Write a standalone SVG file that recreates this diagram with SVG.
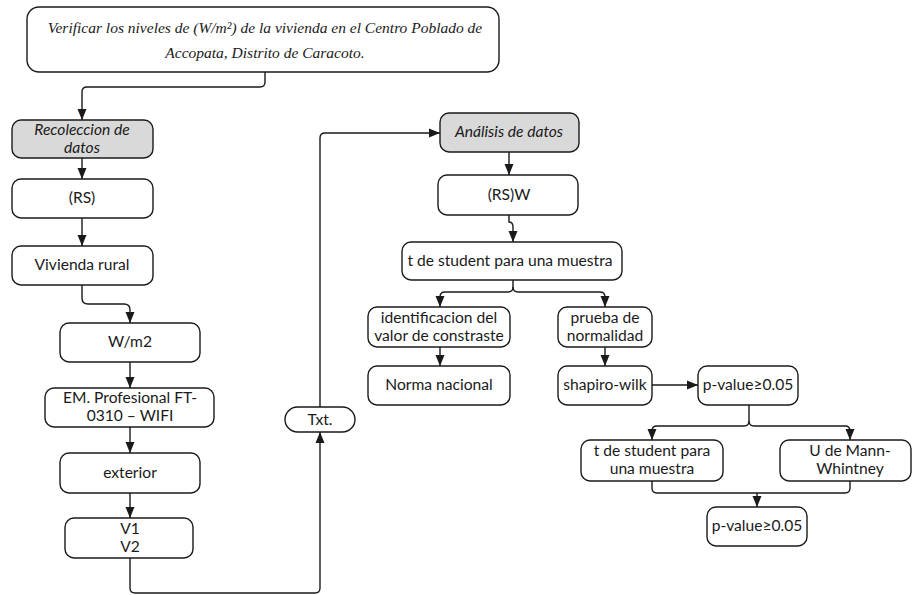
<svg xmlns="http://www.w3.org/2000/svg" width="912" height="595" viewBox="0 0 912 595">
  <style>
    .box { fill: #ffffff; stroke: #1a1a1a; stroke-width: 1.4; }
    .head { fill: #d9d9d9; stroke: #1a1a1a; stroke-width: 1.4; }
    .lbl { font-family: Lato, "Open Sans", sans-serif; font-size: 15.6px; fill: #1a1a1a; text-anchor: middle; }
    .it { font-style: italic; }
    .title { font-family: "Liberation Serif", "Times New Roman", serif; font-style: italic; font-size: 15.5px; fill: #1a1a1a; text-anchor: middle; }
    .conn path { fill: none; stroke: #1a1a1a; stroke-width: 1.4; }
  </style>
  <defs>
    <marker id="arrow" markerUnits="userSpaceOnUse" markerWidth="12" markerHeight="12" viewBox="0 0 12 12" refX="11" refY="6" orient="auto">
      <path d="M0,1.5 L11,6 L0,10.5 Z" fill="#1a1a1a"/>
    </marker>
  </defs>
  <rect width="912" height="595" fill="#ffffff"/>

  <!-- connectors -->
  <g class="conn" id="connectors">
    <path d="M265,72 V82 Q265,87 260,87 H87 Q82,87 82,92 V120" marker-end="url(#arrow)"/>
    <path d="M82,158 V179" marker-end="url(#arrow)"/>
    <path d="M82,218 V246" marker-end="url(#arrow)"/>
    <path d="M82,285 V298 Q82,304 88,304 H124 Q130,304 130,310 V323" marker-end="url(#arrow)"/>
    <path d="M130,362 V388" marker-end="url(#arrow)"/>
    <path d="M130,427 V453" marker-end="url(#arrow)"/>
    <path d="M130,493 V518" marker-end="url(#arrow)"/>
    <path d="M130,558 V588 Q130,593 135,593 H315 Q320,593 320,588 V432" marker-end="url(#arrow)"/>
    <path d="M320,407 V138 Q320,133 325,133 H440" marker-end="url(#arrow)"/>
    <path d="M509,152 V175" marker-end="url(#arrow)"/>
    <path d="M509,215 V222 Q513,222 513,227 V242" marker-end="url(#arrow)"/>
    <path d="M513,280 V287 Q513,292 508,292 H445 Q440,292 440,297 V307" marker-end="url(#arrow)"/>
    <path d="M513,287 Q513,292 518,292 H600 Q605,292 605,297 V307" marker-end="url(#arrow)"/>
    <path d="M440,347 V366" marker-end="url(#arrow)"/>
    <path d="M605,347 V366" marker-end="url(#arrow)"/>
    <path d="M652,385 H698" marker-end="url(#arrow)"/>
    <path d="M749,405 V421 Q749,426 744,426 H657 Q652,426 652,431 V440" marker-end="url(#arrow)"/>
    <path d="M749,421 Q749,426 754,426 H845 Q850,426 850,431 V440" marker-end="url(#arrow)"/>
    <path d="M652,481 V488 Q652,493 657,493 H845 Q850,493 850,488 V481"/>
    <path d="M757,493 V507" marker-end="url(#arrow)"/>
  </g>

  <!-- nodes -->
  <g id="objetivo">
    <rect class="box" x="27" y="7" width="472" height="65" rx="12"/>
    <text class="title" x="265" y="33">Verificar los niveles de (W/m²) de la vivienda en el Centro Poblado de</text>
    <text class="title" x="265" y="58">Accopata, Distrito de Caracoto.</text>
  </g>
  <g id="recoleccion">
    <rect class="head" x="12" y="120" width="141" height="38" rx="9"/>
    <text class="lbl it" x="82" y="135">Recoleccion de</text>
    <text class="lbl it" x="82" y="153">datos</text>
  </g>
  <g id="rs">
    <rect class="box" x="12" y="179" width="141" height="39" rx="9"/>
    <text class="lbl" x="82" y="203">(RS)</text>
  </g>
  <g id="vivienda">
    <rect class="box" x="12" y="246" width="141" height="39" rx="9"/>
    <text class="lbl" x="82" y="270">Vivienda rural</text>
  </g>
  <g id="wm2">
    <rect class="box" x="60" y="323" width="140" height="39" rx="9"/>
    <text class="lbl" x="130" y="347">W/m2</text>
  </g>
  <g id="equipo">
    <rect class="box" x="45" y="388" width="169" height="39" rx="9"/>
    <text class="lbl" x="130" y="403">EM. Profesional FT-</text>
    <text class="lbl" x="130" y="421">0310 – WIFI</text>
  </g>
  <g id="exterior">
    <rect class="box" x="60" y="453" width="140" height="40" rx="9"/>
    <text class="lbl" x="130" y="478">exterior</text>
  </g>
  <g id="variables">
    <rect class="box" x="65" y="518" width="128" height="40" rx="9"/>
    <text class="lbl" x="130" y="534">V1</text>
    <text class="lbl" x="130" y="552">V2</text>
  </g>
  <g id="txt">
    <rect class="box" x="285" y="407" width="70" height="25" rx="12.5"/>
    <text class="lbl" x="320" y="425">Txt.</text>
  </g>
  <g id="analisis">
    <rect class="head" x="440" y="113" width="139" height="39" rx="9"/>
    <text class="lbl it" x="509" y="137">Análisis de datos</text>
  </g>
  <g id="rsw">
    <rect class="box" x="438" y="175" width="140" height="40" rx="9"/>
    <text class="lbl" x="509" y="200">(RS)W</text>
  </g>
  <g id="tstudent">
    <rect class="box" x="402" y="242" width="220" height="38" rx="9"/>
    <text class="lbl" x="510" y="266">t de student para una muestra</text>
  </g>
  <g id="identificacion">
    <rect class="box" x="368" y="307" width="142" height="40" rx="9"/>
    <text class="lbl" x="439" y="323">identificacion del</text>
    <text class="lbl" x="439" y="341">valor de constraste</text>
  </g>
  <g id="normalidad">
    <rect class="box" x="558" y="307" width="94" height="40" rx="9"/>
    <text class="lbl" x="605" y="323">prueba de</text>
    <text class="lbl" x="605" y="341">normalidad</text>
  </g>
  <g id="norma">
    <rect class="box" x="368" y="366" width="142" height="39" rx="9"/>
    <text class="lbl" x="439" y="390">Norma nacional</text>
  </g>
  <g id="shapiro">
    <rect class="box" x="558" y="366" width="94" height="39" rx="9"/>
    <text class="lbl" x="605" y="390">shapiro-wilk</text>
  </g>
  <g id="pvalue1">
    <rect class="box" x="698" y="366" width="100" height="39" rx="9"/>
    <text class="lbl" x="748" y="390">p-value≥0.05</text>
  </g>
  <g id="tstudent2">
    <rect class="box" x="581" y="440" width="142" height="41" rx="9"/>
    <text class="lbl" x="652" y="456">t de student para</text>
    <text class="lbl" x="652" y="474">una muestra</text>
  </g>
  <g id="mannwhitney">
    <rect class="box" x="780" y="440" width="131" height="41" rx="9"/>
    <text class="lbl" x="850" y="456">U de Mann-</text>
    <text class="lbl" x="850" y="474">Whintney</text>
  </g>
  <g id="pvalue2">
    <rect class="box" x="707" y="507" width="100" height="39" rx="9"/>
    <text class="lbl" x="757" y="531">p-value≥0.05</text>
  </g>
</svg>
